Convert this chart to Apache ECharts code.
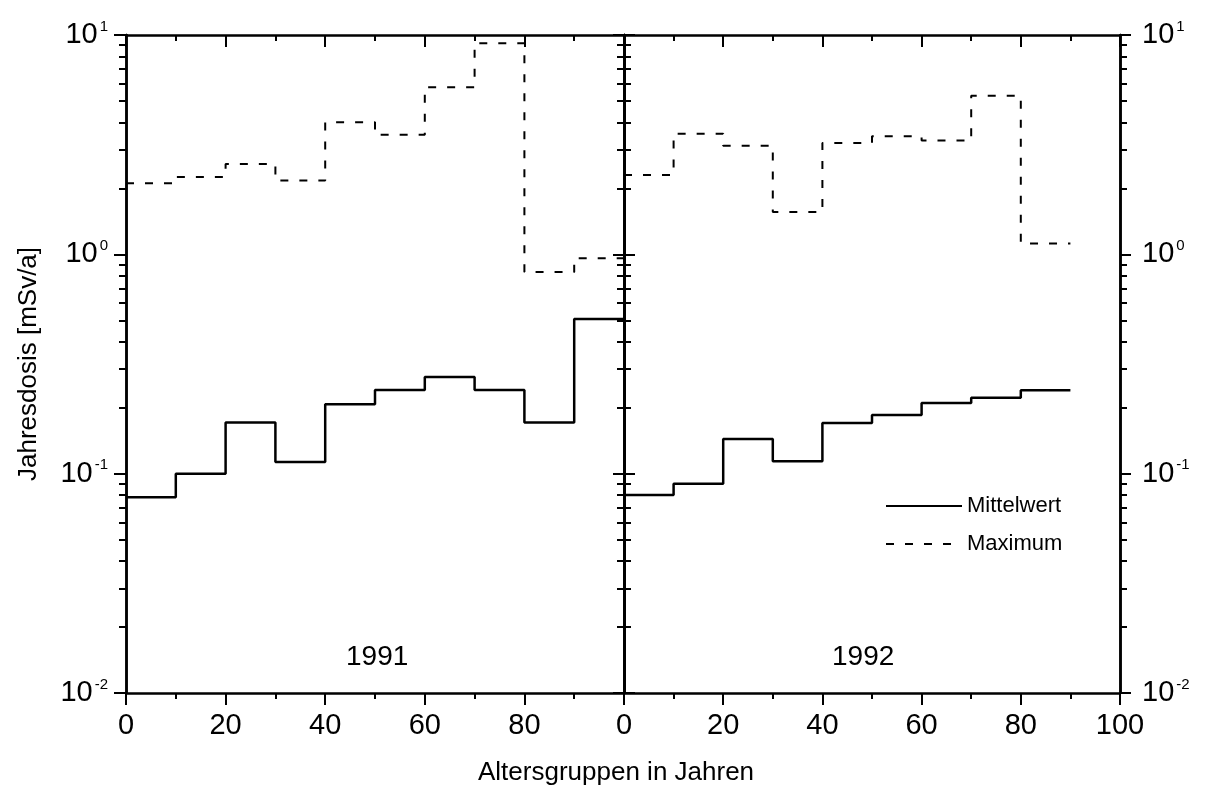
<!DOCTYPE html>
<html>
<head>
<meta charset="utf-8">
<script src="https://cdn.jsdelivr.net/npm/echarts@6/dist/echarts.min.js"></script>
<style>
  html, body { margin: 0; padding: 0; background: #fff; }
  #chart { width: 1208px; height: 792px; }
</style>
</head>
<body>
<div id="chart"></div>
<script>
// Altersgruppen (Beginn der 10-Jahres-Klasse)
var binStarts = [0, 10, 20, 30, 40, 50, 60, 70, 80, 90];
var binWidth = 10;

// Jahresdosis in mSv/a
var mean1991 = [0.078, 0.100, 0.171, 0.113, 0.207, 0.241, 0.276, 0.241, 0.171, 0.507];
var max1991 = [2.11, 2.25, 2.58, 2.17, 4.0, 3.51, 5.78, 9.16, 0.83, 0.96];
var mean1992 = [0.080, 0.090, 0.144, 0.114, 0.170, 0.185, 0.210, 0.222, 0.240];
var max1992 = [2.30, 3.55, 3.13, 1.56, 3.22, 3.45, 3.30, 5.28, 1.12];

var yMajor = [0.01, 0.1, 1, 10];
var yMinor = [0.02, 0.03, 0.04, 0.05, 0.06, 0.07, 0.08, 0.09,
              0.2, 0.3, 0.4, 0.5, 0.6, 0.7, 0.8, 0.9,
              2, 3, 4, 5, 6, 7, 8, 9];

var font = 'Liberation Sans';

function steps(values) {
    var pts = values.map(function (v, i) { return [binStarts[i], v]; });
    pts.push([binStarts[values.length - 1] + binWidth, values[values.length - 1]]);
    return pts;
}

function powLabel(v) {
    var e = Math.round(Math.log(v) / Math.LN10);
    return '{b|10}{s|' + e + '}';
}

var labelRich = {
    b: { fontSize: 29, fontFamily: font, color: '#000', lineHeight: 32 },
    s: { fontSize: 15, fontFamily: font, color: '#000', verticalAlign: 'top', lineHeight: 16, padding: [0, 0, 0, 2] }
};

var axisLine = { show: true, onZero: false, lineStyle: { color: '#000', width: 2.5 } };

function xAxis(grid, pos, showLabel, maxLabel) {
    var inside = pos === 'top';
    return {
        type: 'value', gridIndex: grid, position: pos, min: 0, max: 100, interval: 20,
        axisLine: axisLine,
        axisTick: { show: true, inside: inside, length: 12, lineStyle: { color: '#000', width: 2 } },
        minorTick: { show: true, splitNumber: 2, length: 6, lineStyle: { color: '#000', width: 2 } },
        splitLine: { show: false },
        axisLabel: {
            show: showLabel, margin: 18, fontSize: 29, fontFamily: font, color: '#000',
            formatter: function (v) { return v > maxLabel ? '' : String(v); }
        }
    };
}

function yAxis(grid, pos, inside, values, len, showLabel, margin) {
    return {
        type: 'log', logBase: 10, gridIndex: grid, position: pos, min: 0.01, max: 10,
        axisLine: axisLine,
        axisTick: { show: true, inside: inside, length: len, customValues: values,
                    lineStyle: { color: '#000', width: 2 } },
        splitLine: { show: false },
        axisLabel: {
            show: showLabel, customValues: values, margin: margin || 14,
            formatter: powLabel, rich: labelRich
        }
    };
}

var myChart = echarts.init(document.getElementById('chart'));

var lineSolid = { color: '#000', width: 2.5, type: 'solid' };
var lineDash = { color: '#000', width: 2, type: [8, 11] };

var option = {
    backgroundColor: '#fff',
    animation: false,
    grid: [
        { left: 126, top: 35, width: 498, height: 658 },
        { left: 624, top: 35, width: 496, height: 658 }
    ],
    xAxis: [
        xAxis(0, 'bottom', true, 80),
        xAxis(0, 'top', false, 100),
        xAxis(1, 'bottom', true, 100),
        xAxis(1, 'top', false, 100)
    ],
    yAxis: [
        Object.assign(yAxis(0, 'left', false, yMajor, 12, true, 18), {
            name: 'Jahresdosis [mSv/a]', nameLocation: 'middle', nameGap: 84,
            nameTextStyle: { fontSize: 26, fontFamily: font, color: '#000' }
        }),
        yAxis(0, 'left', false, yMinor, 7, false),
        yAxis(0, 'right', true, yMajor, 11, false),
        yAxis(0, 'right', true, yMinor, 7, false),
        yAxis(1, 'left', true, yMajor, 11, false),
        yAxis(1, 'left', true, yMinor, 7, false),
        yAxis(1, 'right', false, yMajor, 11, true, 22),
        yAxis(1, 'right', false, yMinor, 7, false)
    ],
    legend: {
        orient: 'vertical', left: 880, top: 490, itemGap: 16,
        itemWidth: 76, itemHeight: 24,
        data: ['Mittelwert', 'Maximum'],
        itemStyle: { opacity: 0, color: 'transparent', borderColor: 'transparent' },
        textStyle: { fontSize: 22, fontFamily: font, color: '#000' }
    },
    graphic: [
        { type: 'text', left: 346, top: 643, style: { text: '1991', fontSize: 28, fontFamily: font, fill: '#000' } },
        { type: 'text', left: 832, top: 643, style: { text: '1992', fontSize: 28, fontFamily: font, fill: '#000' } },
        { type: 'text', left: 478, top: 760, style: { text: 'Altersgruppen in Jahren', fontSize: 26, fontFamily: font, fill: '#000' } }
    ],
    series: [
        { name: 'Mittelwert', type: 'line', step: 'end', xAxisIndex: 0, yAxisIndex: 0,
          symbol: 'none', lineStyle: lineSolid, itemStyle: { color: '#000' }, data: steps(mean1991) },
        { name: 'Maximum', type: 'line', step: 'end', xAxisIndex: 0, yAxisIndex: 0,
          symbol: 'none', lineStyle: lineDash, itemStyle: { color: '#000' }, data: steps(max1991) },
        { name: 'Mittelwert', type: 'line', step: 'end', xAxisIndex: 2, yAxisIndex: 6,
          symbol: 'none', lineStyle: lineSolid, itemStyle: { color: '#000' }, data: steps(mean1992) },
        { name: 'Maximum', type: 'line', step: 'end', xAxisIndex: 2, yAxisIndex: 6,
          symbol: 'none', lineStyle: lineDash, itemStyle: { color: '#000' }, data: steps(max1992) }
    ]
};

myChart.setOption(option);
window.addEventListener('resize', function () {
    myChart.resize();
});
</script>
</body>
</html>
